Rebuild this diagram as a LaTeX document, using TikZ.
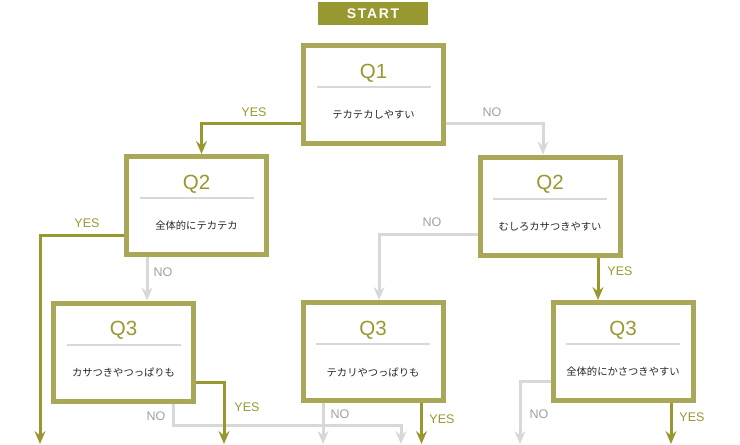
\documentclass[tikz,border=0pt]{standalone}
\usepackage{fontspec}
\setmainfont{Liberation Sans}
\newfontfamily\jp{Noto Sans CJK JP}
\usetikzlibrary{arrows.meta}

\definecolor{chkolive}{RGB}{152,152,48}
\definecolor{chkborder}{RGB}{168,168,88}
\definecolor{chkgrey}{RGB}{216,216,216}
\definecolor{chknolab}{RGB}{160,160,160}
\definecolor{chktext}{RGB}{40,40,40}

\begin{document}
\begin{tikzpicture}[x=1pt, y=-1pt,
  qbox/.style={draw=chkborder, line width=5pt, fill=white, minimum width=140pt, minimum height=98pt, inner sep=0pt},
  qnum/.style={text=chkolive, font=\fontsize{20.5}{20}\selectfont},
  qtext/.style={text=chktext, font=\jp\fontsize{10.3}{12}\selectfont},
  divline/.style={draw=chkgrey, line width=2pt},
  yes/.style={draw=chkolive, line width=3pt, -{Stealth[length=13pt,width=11pt,inset=4.5pt]}},
  no/.style={draw=chkgrey, line width=3pt, -{Stealth[length=13pt,width=11pt,inset=4.5pt]}},
  yeslab/.style={text=chkolive, font=\fontsize{12.5}{13}\selectfont},
  nolab/.style={text=chknolab, font=\fontsize{12.5}{13}\selectfont},
  startbox/.style={fill=chkolive, text=white, minimum width=110pt, minimum height=23pt, inner sep=0pt,
    font=\bfseries\addfontfeatures{LetterSpace=12}\fontsize{14}{14}\selectfont}]

  %% canvas
  \path[use as bounding box] (0,0) rectangle (740,445);

  \node[startbox] (start) at (373,13.5) {START};

  %% question boxes
  \foreach \n/\x/\y/\q/\t in {q1/373.5/94.5/Q1/テカテカしやすい,
                             q2l/196.5/205.5/Q2/全体的にテカテカ,
                             q2r/550/206/Q2/むしろカサつきやすい,
                             q3l/123.5/352/Q3/カサつきやつっぱりも,
                             q3m/373/351.5/Q3/テカリやつっぱりも,
                             q3r/623/351.5/Q3/全体的にかさつきやすい} {
    \node[qbox] (\n) at (\x,\y) {};
    \node[qnum] (\n num) at ([yshift=21.5pt]\n.center) {\q};
    \draw[divline] ([xshift=-57pt,yshift=7.5pt]\n.center) -- ([xshift=57pt,yshift=7.5pt]\n.center);
    \node[qtext] (\n txt) at ([yshift=-20.5pt]\n.center) {\t};
  }

  %% free ends at the bottom
  \coordinate (e1) at (40,444);
  \coordinate (e2) at (224,444);
  \coordinate (e3) at (323,444);
  \coordinate (e4) at (401,444);
  \coordinate (e5) at (421.5,444);
  \coordinate (e6) at (520,444);
  \coordinate (e7) at (671,444);

  %% connectors
  \draw[yes] ([yshift=-28.5pt]q1.west) -| ([xshift=5pt]q2l.north);
  \draw[no] ([yshift=-28.5pt]q1.east) -| ([xshift=-7pt]q2r.north);
  \draw[yes] ([yshift=-29.5pt]q2l.west) -| (e1);
  \draw[no] ([xshift=-49.5pt]q2l.south) -- ([xshift=-49.5pt]q2l.south |- q3l.north);
  \draw[no] ([yshift=-28pt]q2r.west) -| ([xshift=6pt]q3m.north);
  \draw[yes] ([xshift=48pt]q2r.south) -- ([xshift=48pt]q2r.south |- q3r.north);
  \draw[no] ([xshift=49.5pt]q3l.south) |- (401,425) -- (e4);
  \draw[yes] ([yshift=-30pt]q3l.east) -| (e2);
  \draw[no] (q3m.south -| e3) -- (e3);
  \draw[yes] (q3m.south -| e5) -- (e5);
  \draw[no] ([yshift=-29.5pt]q3r.west) -| (e6);
  \draw[yes] (q3r.south -| e7) -- (e7);

  %% labels
  \node[yeslab] (l1) at (254,112) {YES};
  \node[nolab] (l2) at (492,112) {NO};
  \node[yeslab] (l3) at (87,223) {YES};
  \node[nolab] (l4) at (163,272) {NO};
  \node[nolab] (l5) at (432,222) {NO};
  \node[yeslab] (l6) at (620,271) {YES};
  \node[yeslab] (l7) at (247,407) {YES};
  \node[nolab] (l8) at (156,416) {NO};
  \node[nolab] (l9) at (340,414) {NO};
  \node[yeslab] (l10) at (442,419) {YES};
  \node[nolab] (l11) at (539,414) {NO};
  \node[yeslab] (l12) at (692,417) {YES};
\end{tikzpicture}
\end{document}
